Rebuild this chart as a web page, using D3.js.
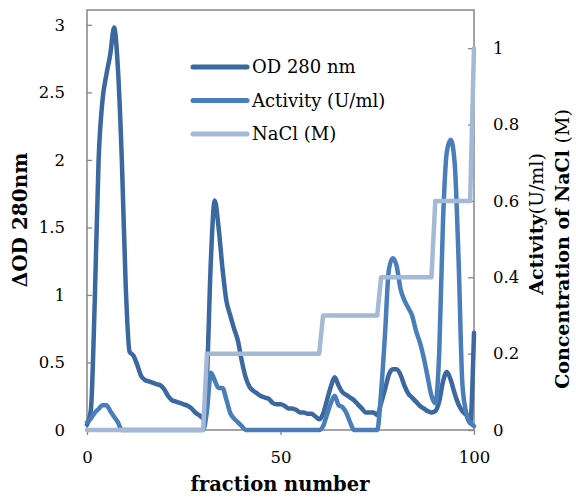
<!DOCTYPE html>
<html lang="en">
<head>
  <meta charset="UTF-8">
  <title>Elution profile</title>
  <script src="https://d3js.org/d3.v7.min.js"></script>
  <style>
    body { margin: 0; background: #fff; }
    svg { display: block; font-family: "DejaVu Serif", serif; }
    .axis path { display: none; }
    .axis line { stroke: #868686; stroke-width: 1.3; }
    .axis text { font-size: 16.5px; fill: #000; font-family: "DejaVu Serif", serif; }
    .series { fill: none; stroke-width: 4.5; stroke-linejoin: round; stroke-linecap: round; }
  </style>
</head>
<body>
  <svg width="576" height="497"></svg>
  <script>
    // fraction numbers on the x axis
    const fractions = d3.range(0, 101);

    // absorbance at 280 nm, one value per fraction (left axis)
    const od280 = [
      0.04, 0.15, 0.95, 2.00, 2.44, 2.63, 2.78, 2.98, 2.67, 2.00,
      1.07, 0.58, 0.55, 0.48, 0.40, 0.37, 0.36, 0.35, 0.34, 0.33,
      0.30, 0.25, 0.22, 0.21, 0.20, 0.19, 0.18, 0.16, 0.13, 0.11,
      0.09, 0.40, 1.25, 1.70, 1.50, 1.20, 0.96, 0.85, 0.75, 0.66,
      0.51, 0.39, 0.32, 0.29, 0.27, 0.25, 0.24, 0.23, 0.20, 0.19,
      0.19, 0.18, 0.16, 0.16, 0.15, 0.13, 0.13, 0.12, 0.12, 0.10,
      0.08, 0.12, 0.22, 0.32, 0.39, 0.33, 0.28, 0.26, 0.24, 0.22,
      0.19, 0.16, 0.13, 0.13, 0.13, 0.11, 0.20, 0.30, 0.41, 0.45,
      0.45, 0.41, 0.33, 0.27, 0.24, 0.21, 0.18, 0.16, 0.14, 0.13,
      0.14, 0.21, 0.36, 0.43, 0.37, 0.27, 0.19, 0.14, 0.11, 0.05,
      0.72
    ];

    // enzyme activity U/ml (right axis)
    const activity = [
      0.020, 0.030, 0.045, 0.055, 0.065, 0.065, 0.050, 0.035, 0.020, 0,
      0, 0, 0, 0, 0, 0, 0, 0, 0, 0,
      0, 0, 0, 0, 0, 0, 0, 0, 0, 0,
      0, 0.050, 0.150, 0.130, 0.110, 0.110, 0.080, 0.045, 0.030, 0.020,
      0.010, 0, 0, 0, 0, 0, 0, 0, 0, 0,
      0, 0, 0, 0, 0, 0, 0, 0, 0, 0,
      0, 0.010, 0.040, 0.070, 0.090, 0.065, 0.060, 0.045, 0.020, 0,
      0, 0, 0, 0, 0, 0, 0.100, 0.250, 0.420, 0.450,
      0.430, 0.370, 0.340, 0.320, 0.300, 0.260, 0.230, 0.190, 0.140, 0.090,
      0.070, 0.200, 0.550, 0.730, 0.760, 0.700, 0.450, 0.120, 0.045, 0.020,
      0.010
    ];

    // NaCl gradient steps: [fraction, molarity] (right axis)
    const naclSteps = [
      [0, 0], [30, 0], [31, 0.2], [60, 0.2], [61, 0.3], [75, 0.3],
      [76, 0.4], [89, 0.4], [90, 0.6], [99, 0.6], [100, 1.0]
    ];

    const seriesNames = ["OD 280 nm", "Activity (U/ml)", "NaCl (M)"];
    const seriesColors = ["#3b68a0", "#4a7ebb", "#a5b8d6"];

    const xTicks = [0, 50, 100];
    const leftTicks = [0, 0.5, 1, 1.5, 2, 2.5, 3];
    const rightTicks = [0, 0.2, 0.4, 0.6, 0.8, 1];

    const plot = {left: 87, right: 474, top: 10, bottom: 430};

    const svg = d3.select("svg");

    const x = d3.scaleLinear().domain([0, 100]).range([plot.left, plot.right]);
    const yLeft = d3.scaleLinear().domain([0, 3.11]).range([plot.bottom, plot.top]);
    const yRight = d3.scaleLinear().domain([0, 1.1]).range([plot.bottom, plot.top]);

    // plot frame
    svg.append("rect")
      .attr("x", plot.left)
      .attr("y", plot.top)
      .attr("width", plot.right - plot.left)
      .attr("height", plot.bottom - plot.top)
      .attr("fill", "none")
      .attr("stroke", "#868686")
      .attr("stroke-width", 1.5);

    svg.append("g")
      .attr("class", "axis")
      .attr("transform", `translate(${plot.left},0)`)
      .call(d3.axisLeft(yLeft).tickValues(leftTicks).tickSize(-5).tickPadding(22)
        .tickFormat(d => d));

    svg.append("g")
      .attr("class", "axis")
      .attr("transform", `translate(${plot.right},0)`)
      .call(d3.axisRight(yRight).tickValues(rightTicks).tickSize(-6).tickPadding(19)
        .tickFormat(d => d));

    svg.append("g")
      .attr("class", "axis")
      .attr("transform", `translate(0,${plot.bottom})`)
      .call(d3.axisBottom(x).tickValues(xTicks).tickSize(5).tickPadding(16));

    // lines
    const odLine = d3.line()
      .x((d, i) => x(fractions[i]))
      .y(d => yLeft(d))
      .curve(d3.curveMonotoneX);

    const actLine = d3.line()
      .x((d, i) => x(fractions[i]))
      .y(d => yRight(d))
      .curve(d3.curveMonotoneX);

    const naclLine = d3.line()
      .x(d => x(d[0]))
      .y(d => yRight(d[1]));

    svg.append("path").attr("class", "series")
      .attr("stroke", seriesColors[0]).attr("d", odLine(od280));
    svg.append("path").attr("class", "series")
      .attr("stroke", seriesColors[1]).attr("d", actLine(activity));
    svg.append("path").attr("class", "series")
      .attr("stroke", seriesColors[2]).attr("d", naclLine(naclSteps));

    // legend
    const legend = svg.append("g");
    seriesNames.forEach((name, i) => {
      const ly = 67 + i * 33.5;
      legend.append("line")
        .attr("x1", 193).attr("x2", 247)
        .attr("y1", ly).attr("y2", ly)
        .attr("stroke", seriesColors[i])
        .attr("stroke-width", 5)
        .attr("stroke-linecap", "round");
      legend.append("text")
        .attr("x", 252).attr("y", ly)
        .attr("dy", "0.36em")
        .attr("font-size", "18px")
        .text(name);
    });

    // axis titles
    svg.append("text")
      .attr("x", 280).attr("y", 491)
      .attr("text-anchor", "middle")
      .attr("font-size", "19.5px")
      .attr("font-weight", "bold")
      .text("fraction number");

    svg.append("text")
      .attr("transform", "translate(27,220) rotate(-90)")
      .attr("text-anchor", "middle")
      .attr("font-size", "20px")
      .attr("font-weight", "bold")
      .text("ΔOD 280nm");

    const actTitle = svg.append("text")
      .attr("transform", "translate(543,224) rotate(-90)")
      .attr("text-anchor", "middle")
      .attr("font-size", "19px");
    actTitle.append("tspan").attr("font-weight", "bold").text("Activity");
    actTitle.append("tspan").text("(U/ml)");

    const naclTitle = svg.append("text")
      .attr("transform", "translate(569,249) rotate(-90)")
      .attr("text-anchor", "middle")
      .attr("font-size", "19px");
    naclTitle.append("tspan").attr("font-weight", "bold").text("Concentration of NaCl ");
    naclTitle.append("tspan").text("(M)");
  </script>
</body>
</html>
